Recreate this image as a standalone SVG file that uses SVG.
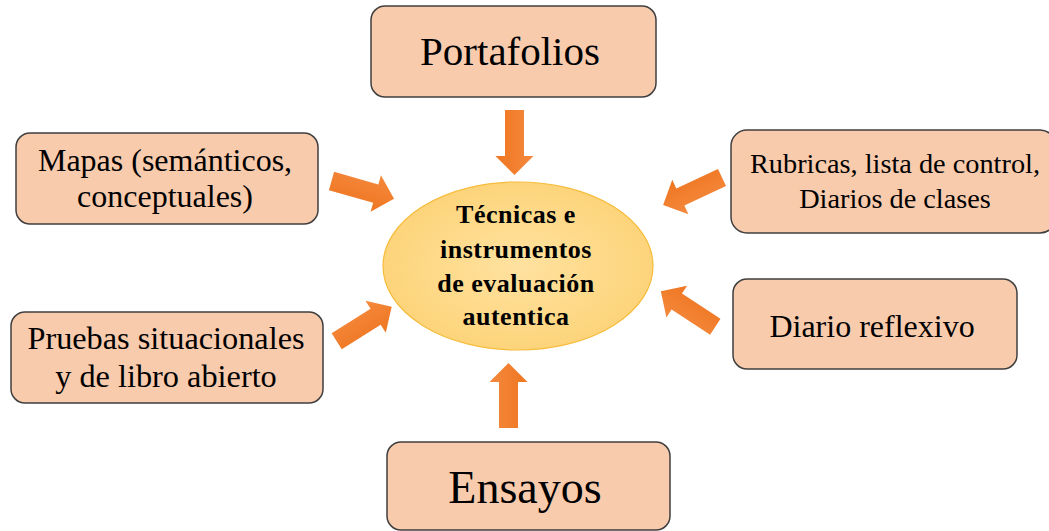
<svg xmlns="http://www.w3.org/2000/svg" width="1049" height="531" viewBox="0 0 1049 531">
  <defs>
    <style>
      .box { fill: #F8CBAD; stroke: #3F3F3F; stroke-width: 1.5; }
      .lbl { font-family: "Liberation Serif", "Times New Roman", serif; fill: #000; text-anchor: middle; }
      .ctr { font-family: "Liberation Serif", "Times New Roman", serif; font-weight: bold; font-size: 26px; letter-spacing: 0.5px; fill: #000; text-anchor: middle; }
      .arrow { fill: url(#arrowGrad); }
    </style>
    <linearGradient id="arrowGrad" x1="0" y1="0" x2="0" y2="1">
      <stop offset="0" stop-color="#F5893D"/>
      <stop offset="1" stop-color="#EE7621"/>
    </linearGradient>
    <radialGradient id="ellGrad" cx="0.5" cy="0.5" r="0.5">
      <stop offset="0" stop-color="#FFE2A0"/>
      <stop offset="1" stop-color="#FDD47B"/>
    </radialGradient>
    <path id="arr" d="M0,-9.5 L46,-9.5 L46,-19 L65,0 L46,19 L46,9.5 L0,9.5 Z"/>
  </defs>
  <rect width="1049" height="531" fill="#FFFFFF"/>

  <g id="connectors">
    <use href="#arr" class="arrow" transform="translate(514.5,110) rotate(90)"/>
    <use href="#arr" class="arrow" transform="translate(508.5,428) rotate(-90)"/>
    <use href="#arr" class="arrow" transform="translate(331.5,181) rotate(15.8)"/>
    <use href="#arr" class="arrow" transform="translate(336.7,341.3) rotate(-32.2)"/>
    <use href="#arr" class="arrow" transform="translate(722,177.5) rotate(154.9)"/>
    <use href="#arr" class="arrow" transform="translate(715.3,326.7) rotate(213.1)"/>
  </g>

  <g id="center">
    <ellipse cx="518" cy="266" rx="135" ry="84" fill="url(#ellGrad)" stroke="#F6BC3A" stroke-width="1.2"/>
    <text class="ctr" x="516" y="223">Técnicas e</text>
    <text class="ctr" x="516" y="258">instrumentos</text>
    <text class="ctr" x="516" y="292">de evaluación</text>
    <text class="ctr" x="516" y="325">autentica</text>
  </g>

  <g id="portafolios">
    <rect class="box" x="371" y="6" width="285" height="91" rx="14"/>
    <text class="lbl" x="510" y="65" font-size="41">Portafolios</text>
  </g>

  <g id="mapas">
    <rect class="box" x="16" y="133" width="302" height="91" rx="14"/>
    <text class="lbl" x="165" y="171" font-size="32">Mapas (semánticos,</text>
    <text class="lbl" x="165" y="207" font-size="32">conceptuales)</text>
  </g>

  <g id="rubricas">
    <rect class="box" x="731" y="130" width="325" height="103" rx="16"/>
    <text class="lbl" x="895" y="173" font-size="28.3">Rubricas, lista de control,</text>
    <text class="lbl" x="895" y="208" font-size="28.3">Diarios de clases</text>
  </g>

  <g id="pruebas">
    <rect class="box" x="11" y="312" width="312" height="91" rx="14"/>
    <text class="lbl" x="166" y="349" font-size="32.3">Pruebas situacionales</text>
    <text class="lbl" x="166" y="387" font-size="32.3">y de libro abierto</text>
  </g>

  <g id="diario">
    <rect class="box" x="733" y="279" width="284" height="90" rx="14"/>
    <text class="lbl" x="872" y="337" font-size="32">Diario reflexivo</text>
  </g>

  <g id="ensayos">
    <rect class="box" x="387" y="442" width="283" height="88" rx="14"/>
    <text class="lbl" x="525" y="503" font-size="46">Ensayos</text>
  </g>
</svg>
